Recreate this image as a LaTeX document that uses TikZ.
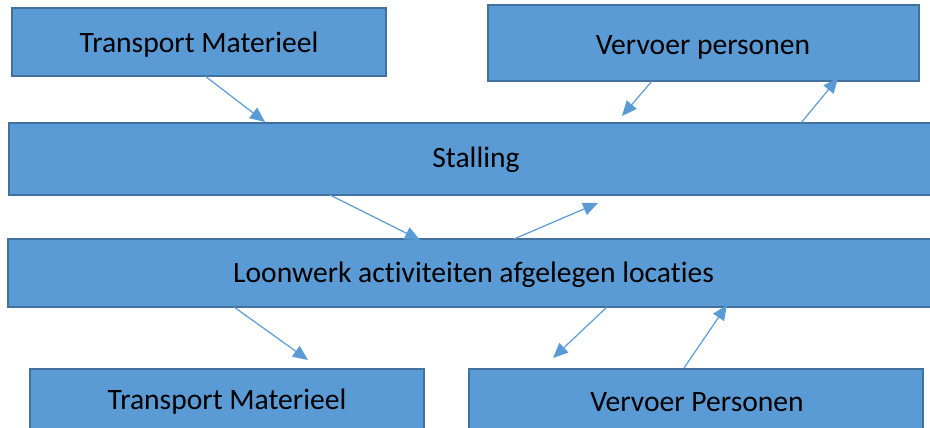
\documentclass[tikz,border=0pt]{standalone}
\usepackage{fontspec}
\setmainfont{Carlito}[Ligatures=NoCommon]
\usetikzlibrary{arrows.meta}
\definecolor{boxfill}{HTML}{5B9BD5}
\definecolor{boxline}{HTML}{41719C}
\definecolor{arr}{HTML}{5B9BD5}
\tikzset{
  box/.style={draw=boxline, fill=boxfill, line width=2.2pt, inner sep=0pt},
  lbl/.style={font=\fontsize{29.6}{35}\selectfont, text=black, inner sep=0pt},
  conn/.style={draw=arr, line width=1.2pt, -{Triangle[length=15pt,width=13pt]}}
}
\begin{document}
\begin{tikzpicture}[x=1pt,y=-1pt]
\useasboundingbox (0,0) rectangle (930,428);
\node[box, minimum width=374pt, minimum height=68pt] (tm1) at (199,42) {};
\node[lbl] (tm1t) at (199,45) {Transport Materieel};
\node[box, minimum width=431pt, minimum height=76pt] (vp1) at (703.5,43) {};
\node[lbl] (vp1t) at (703,47) {Vervoer personen};
\node[box, minimum width=934pt, minimum height=72pt] (st) at (476,159) {};
\node[lbl] (stt) at (476,160) {Stalling};
\node[box, minimum width=930pt, minimum height=68pt] (lw) at (473,273) {};
\node[lbl] (lwt) at (473.5,275) {Loonwerk activiteiten afgelegen locaties};
\node[box, minimum width=394pt, minimum height=62pt] (tm2) at (227,400) {};
\node[lbl] (tm2t) at (227,402) {Transport Materieel};
\node[box, minimum width=454pt, minimum height=62pt] (vp2) at (696,400) {};
\node[lbl] (vp2t) at (697,402) {Vervoer Personen};
% connector end points
\coordinate (a1s) at (205,76);  \coordinate (a1e) at (265,122);
\coordinate (a2s) at (652,81);  \coordinate (a2e) at (622,116);
\coordinate (a3s) at (801,123); \coordinate (a3e) at (838,78);
\coordinate (a4s) at (330,195); \coordinate (a4e) at (420,240);
\coordinate (a5s) at (514,239); \coordinate (a5e) at (598,203);
\coordinate (a6s) at (234,307); \coordinate (a6e) at (308,360);
\coordinate (a7s) at (607,307); \coordinate (a7e) at (553,358);
\coordinate (a8s) at (684,368); \coordinate (a8e) at (727,305);
\draw[conn] (a1s) -- (a1e);
\draw[conn] (a2s) -- (a2e);
\draw[conn] (a3s) -- (a3e);
\draw[conn] (a4s) -- (a4e);
\draw[conn] (a5s) -- (a5e);
\draw[conn] (a6s) -- (a6e);
\draw[conn] (a7s) -- (a7e);
\draw[conn] (a8s) -- (a8e);
\end{tikzpicture}
\end{document}
